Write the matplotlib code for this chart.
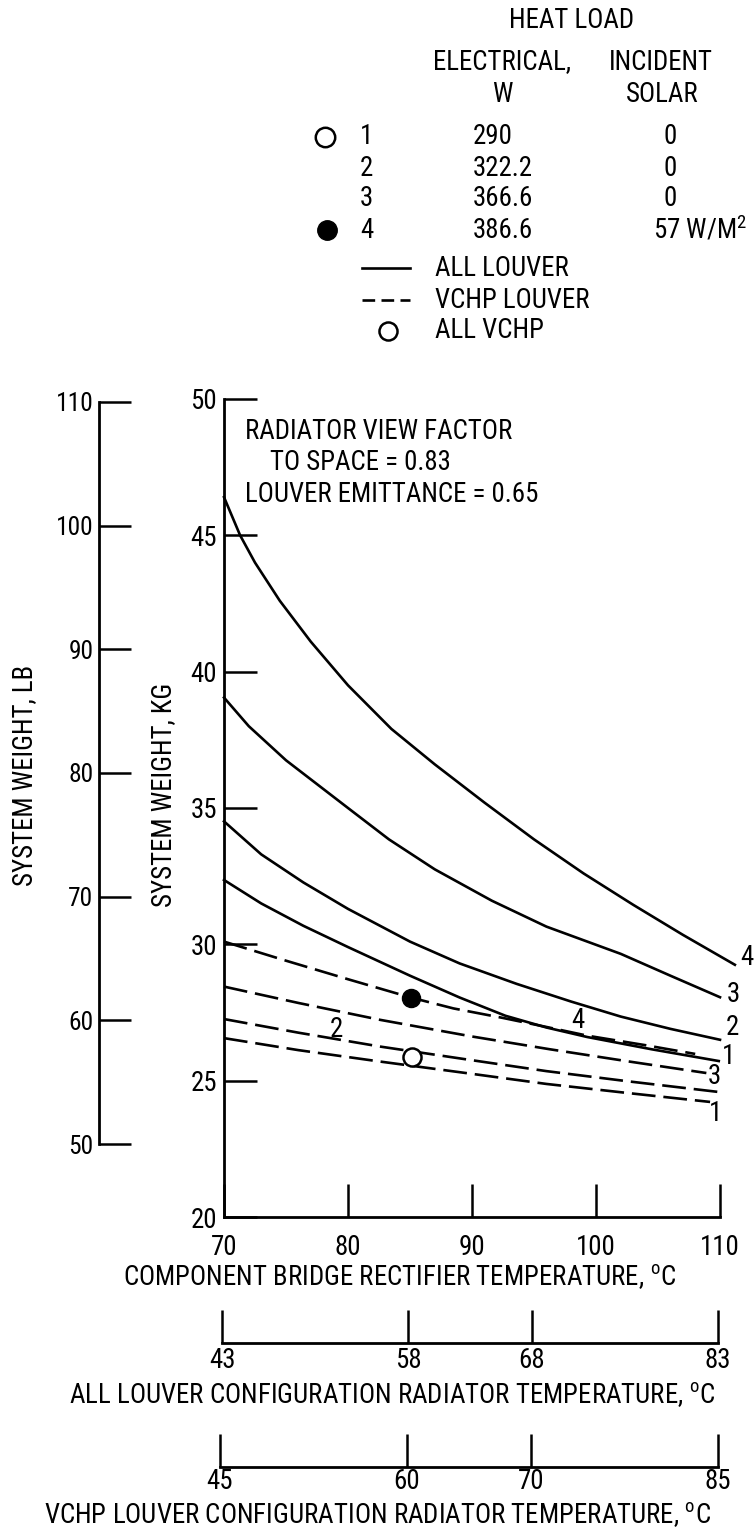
import matplotlib
matplotlib.use('Agg')
import matplotlib.pyplot as plt
from matplotlib import font_manager

# ---- values ----
rectifier_ticks = [70, 80, 90, 100, 110]
kg_ticks = [20, 25, 30, 35, 40, 45, 50]
lb_ticks = [50, 60, 70, 80, 90, 100, 110]
all_louver_rad_ticks = [43, 58, 68, 83]
vchp_louver_rad_ticks = [45, 60, 70, 85]

# ALL LOUVER (solid), heat load cases 1-4
louver1_x = [70, 73, 76.4, 80, 85, 89, 92.7, 96, 99.3, 104.5, 109.9]
louver1_kg = [32.36, 31.5, 30.68, 29.9, 28.85, 28.05, 27.38, 26.95, 26.6, 26.15, 25.72]
louver2_x = [70, 73, 76.4, 80, 85, 89, 93.6, 98, 102, 106, 110]
louver2_kg = [34.51, 33.3, 32.27, 31.3, 30.1, 29.3, 28.55, 27.9, 27.35, 26.9, 26.5]
louver3_x = [70, 72, 75, 78, 80, 83.3, 87, 91.6, 96, 102, 106, 110]
louver3_kg = [39.05, 38.0, 36.75, 35.7, 35.0, 33.85, 32.75, 31.6, 30.65, 29.65, 28.85, 28.06]
louver4_x = [70, 71.3, 72.5, 74.5, 77, 80, 83.5, 87, 91, 95, 99, 103, 107, 111.2]
louver4_kg = [46.4, 45.0, 44.0, 42.6, 41.1, 39.5, 37.9, 36.6, 35.2, 33.85, 32.6, 31.45, 30.35, 29.25]

# VCHP LOUVER (dashed), heat load cases 1-4
vchp1_x = [70, 76, 82.6, 90, 96, 102.7, 109.2]
vchp1_kg = [26.56, 26.12, 25.7, 25.25, 24.88, 24.54, 24.22]
vchp2_x = [70, 76, 82.6, 90, 96, 102.7, 109.8]
vchp2_kg = [27.26, 26.76, 26.25, 25.75, 25.35, 24.97, 24.59]
vchp3_x = [70, 76, 82.6, 90, 96.3, 102.7, 108.9]
vchp3_kg = [28.45, 27.85, 27.23, 26.62, 26.15, 25.7, 25.28]
vchp4_x = [70, 75, 80, 85.06, 88.5, 92.5, 96, 99.3, 104, 108]
vchp4_kg = [30.1, 29.4, 28.72, 28.05, 27.65, 27.3, 26.97, 26.65, 26.3, 25.98]

# ALL VCHP points
all_vchp1 = (85.2, 25.88)
all_vchp4 = (85.06, 28.05)

# heat load table
cases = ['1', '2', '3', '4']
electrical_w = ['290', '322.2', '366.6', '386.6']
incident_solar = ['0', '0', '0', '57 W/M$^{\\mathregular{2}}$']

# ---- fonts: the original lettering is a narrow sans ----
names = {f.name for f in font_manager.fontManager.ttflist}
prefs = ['Liberation Sans Narrow', 'Roboto Condensed', 'Archivo Narrow', 'PT Sans Narrow',
         'Fira Sans Condensed', 'IBM Plex Sans Condensed', 'Open Sans Condensed',
         'Sofia Sans Condensed', 'Saira SemiCondensed']
main_font = next((n for n in prefs if n in names), 'DejaVu Sans')
plt.rcParams['font.family'] = [main_font, 'DejaVu Sans']
plt.rcParams['mathtext.fontset'] = 'custom'
plt.rcParams['mathtext.rm'] = main_font

W, H = 754, 1528
fig = plt.figure(figsize=(W / 100, H / 100), dpi=100)

# size the lettering so a known line has the reference width
probe = fig.text(0, 0, 'RADIATOR VIEW FACTOR', fontsize=18)
pw = probe.get_window_extent(fig.canvas.get_renderer()).width
probe.remove()
FS = max(14, min(22, 18 * 267 / pw))
FS_LB = FS * 0.95


def rect(l, t, r, b):
    return [l / W, 1 - b / H, (r - l) / W, (b - t) / H]


LW = 1.9
DASH = (0, (9, 3))

# main axes
ax = fig.add_axes(rect(224, 399, 720, 1217))
ax.set_xlim(70, 110)
ax.set_ylim(20, 50)
for s in ['top', 'right']:
    ax.spines[s].set_visible(False)
for s in ['left', 'bottom']:
    ax.spines[s].set_linewidth(2)
ax.set_xticks(rectifier_ticks)
ax.set_yticks(kg_ticks)
ax.tick_params(direction='in', length=24, width=1.8, labelsize=FS)
ax.tick_params(axis='x', pad=12)
ax.tick_params(axis='y', pad=5)

solid = [(louver1_x, louver1_kg, '1', (10, 5)),
         (louver2_x, louver2_kg, '2', (12, 12)),
         (louver3_x, louver3_kg, '3', (13, 3)),
         (louver4_x, louver4_kg, '4', (12, 7))]
for x, y, lbl, off in solid:
    ax.plot(x, y, color='k', lw=LW, clip_on=False)
    ax.annotate(lbl, (x[-1], y[-1]), xytext=off, textcoords='offset pixels',
                ha='center', va='center', fontsize=FS, annotation_clip=False)

dashed = [(vchp1_x, vchp1_kg, '1', (5, -12)),
          (vchp2_x, vchp2_kg, None, None),
          (vchp3_x, vchp3_kg, '3', (8, -3)),
          (vchp4_x, vchp4_kg, None, None)]
for x, y, lbl, off in dashed:
    ax.plot(x, y, color='k', lw=LW, linestyle=DASH, clip_on=False)
    if lbl:
        ax.annotate(lbl, (x[-1], y[-1]), xytext=off, textcoords='offset pixels',
                    ha='center', va='center', fontsize=FS, annotation_clip=False)

ax.text(79.1, 26.86, '2', ha='center', va='center', fontsize=FS)
ax.text(98.5, 27.2, '4', ha='center', va='center', fontsize=FS)

ax.plot(*all_vchp1, 'o', ms=13, mfc='white', mec='k', mew=1.8, zorder=5)
ax.plot(*all_vchp4, 'o', ms=13, mfc='k', mec='k', zorder=5)

ax.text(0.042, 0.96, 'RADIATOR VIEW FACTOR', transform=ax.transAxes,
        ha='left', va='center', fontsize=FS)
ax.text(0.093, 0.922, 'TO SPACE = 0.83', transform=ax.transAxes,
        ha='left', va='center', fontsize=FS)
ax.text(0.042, 0.883, 'LOUVER EMITTANCE = 0.65', transform=ax.transAxes,
        ha='left', va='center', fontsize=FS)

# pound scale
lb = fig.add_axes(rect(99, 402, 140, 1144))
lb.set_ylim(50, 110)
lb.patch.set_visible(False)
for s in ['top', 'right', 'bottom']:
    lb.spines[s].set_visible(False)
lb.spines['left'].set_linewidth(2)
lb.set_xticks([])
lb.set_yticks(lb_ticks)
lb.tick_params(direction='in', length=23, width=1.8, labelsize=FS_LB, pad=4)

# radiator temperature scales
for rc, lim, ticks, pad in [((222, 1300, 718, 1343), (43, 83), all_louver_rad_ticks, 3),
                            ((220, 1424, 718, 1467), (45, 85), vchp_louver_rad_ticks, 1)]:
    a = fig.add_axes(rect(*rc))
    a.set_xlim(*lim)
    a.patch.set_visible(False)
    for s in ['top', 'right', 'left']:
        a.spines[s].set_visible(False)
    a.spines['bottom'].set_linewidth(2)
    a.set_yticks([])
    a.set_xticks(ticks)
    a.tick_params(direction='in', length=24, width=1.8, labelsize=FS, pad=pad)

# overlay in pixel coordinates for the heat load table and axis titles
ov = fig.add_axes([0, 0, 1, 1])
ov.set_xlim(0, W)
ov.set_ylim(H, 0)
ov.axis('off')

ov.text(572, 20, 'HEAT LOAD', ha='center', va='center', fontsize=FS)
ov.text(502, 62, 'ELECTRICAL,', ha='center', va='center', fontsize=FS)
ov.text(502, 95, 'W', ha='center', va='center', fontsize=FS)
ov.text(661, 62, 'INCIDENT', ha='center', va='center', fontsize=FS)
ov.text(662, 95, 'SOLAR', ha='center', va='center', fontsize=FS)
rows_y = [137, 168, 198, 230]
for c, e, s, yy in zip(cases, electrical_w, incident_solar, rows_y):
    ov.text(360, yy, c, ha='left', va='center', fontsize=FS)
    ov.text(473, yy, e, ha='left', va='center', fontsize=FS)
    if s == '0':
        ov.text(670, yy, s, ha='center', va='center', fontsize=FS)
    else:
        ov.text(653, yy, s, ha='left', va='center', fontsize=FS)
ov.plot(325, rows_y[0], 'o', ms=14, mfc='white', mec='k', mew=1.8)
ov.plot(327, rows_y[3], 'o', ms=14, mfc='k', mec='k')

ov.plot([362, 410], [268, 268], color='k', lw=LW)
ov.text(435, 268, 'ALL LOUVER', ha='left', va='center', fontsize=FS)
ov.plot([362, 410], [300, 300], color='k', lw=LW, linestyle=(0, (4.8, 2.4)))
ov.text(435, 300, 'VCHP LOUVER', ha='left', va='center', fontsize=FS)
ov.plot(388, 331, 'o', ms=13, mfc='white', mec='k', mew=1.8)
ov.text(435, 331, 'ALL VCHP', ha='left', va='center', fontsize=FS)

ov.text(25, 775, 'SYSTEM WEIGHT, LB', rotation=90, ha='center', va='center', fontsize=FS)
ov.text(164, 795, 'SYSTEM WEIGHT, KG', rotation=90, ha='center', va='center', fontsize=FS)

ov.text(400, 1277, 'COMPONENT BRIDGE RECTIFIER TEMPERATURE, $^{\\mathregular{o}}$C',
        ha='center', va='center', fontsize=FS)
ov.text(392, 1395, 'ALL LOUVER CONFIGURATION RADIATOR TEMPERATURE, $^{\\mathregular{o}}$C',
        ha='center', va='center', fontsize=FS)
ov.text(378, 1515, 'VCHP LOUVER CONFIGURATION RADIATOR TEMPERATURE, $^{\\mathregular{o}}$C',
        ha='center', va='center', fontsize=FS)

fig.savefig('out.png', dpi=100)
